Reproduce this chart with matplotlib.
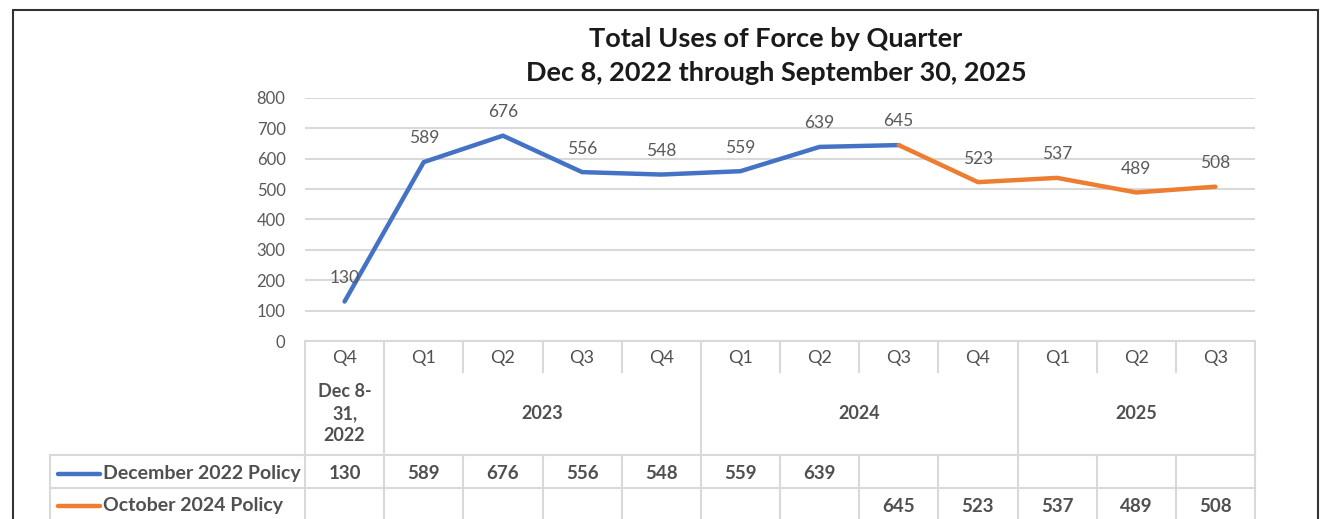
import matplotlib.pyplot as plt
from matplotlib.patches import Rectangle

plt.rcParams['font.family'] = ['Lato', 'DejaVu Sans']

quarters = ['Q4', 'Q1', 'Q2', 'Q3', 'Q4', 'Q1', 'Q2', 'Q3', 'Q4', 'Q1', 'Q2', 'Q3']
year_labels = ['Dec 8-\n31,\n2022', '2023', '2024', '2025']
year_spans = [(0, 1), (1, 5), (5, 9), (9, 12)]
dec_2022 = [130, 589, 676, 556, 548, 559, 639]
oct_2024 = [645, 523, 537, 489, 508]
oct_start = 7
series_names = ['December 2022 Policy', 'October 2024 Policy']

blue = '#4472C4'
orange = '#ED7D31'
grid_c = '#D9D9D9'
tick_c = '#595959'
text_c = '#505050'

W, H = 1325, 519
fig = plt.figure(figsize=(W / 100, H / 100), dpi=100)

# pixel layout of the plot area
px_l, px_r, px_t, px_b = 305, 1255, 98, 341
ax = fig.add_axes([px_l / W, (H - px_b) / H, (px_r - px_l) / W, (px_b - px_t) / H])
n = len(quarters)
ax.set_xlim(-0.5, n - 0.5)
ax.set_ylim(0, 800)
ax.set_yticks(range(0, 801, 100))
ax.yaxis.grid(True, color=grid_c, linewidth=1.5)
ax.set_axisbelow(True)
ax.set_xticks([])
for s in ax.spines.values():
    s.set_visible(False)
ax.tick_params(axis='y', length=0, colors=tick_c, labelsize=12, pad=14)

x_dec = list(range(len(dec_2022)))
x_oct = list(range(oct_start, oct_start + len(oct_2024)))
ax.plot(x_dec + [x_oct[0]], dec_2022 + [oct_2024[0]], color=blue, lw=3.2, solid_capstyle='round')
ax.plot(x_oct, oct_2024, color=orange, lw=3.2, solid_capstyle='round')
for xs, ys in [(x_dec, dec_2022), (x_oct, oct_2024)]:
    for x, y in zip(xs, ys):
        ax.annotate(str(y), (x, y), xytext=(0, 17), textcoords='offset points',
                    ha='center', va='center', fontsize=12.5, color=tick_c)

fig.text(776 / W, 1 - 39 / H, 'Total Uses of Force by Quarter', ha='center', va='center',
         fontsize=19.5, fontweight='bold', color='#1a1a1a')
fig.text(776 / W, 1 - 73 / H, 'Dec 8, 2022 through September 30, 2025', ha='center', va='center',
         fontsize=19.5, fontweight='bold', color='#1a1a1a')

# data table below the chart (y in pixels from the x axis)
tax = fig.add_axes([px_l / W, 0, (px_r - px_l) / W, (H - px_b) / H])
tax.set_xlim(-0.5, n - 0.5)
tax.set_ylim(H - px_b, 0)
tax.axis('off')
colw = (px_r - px_l) / n
x_far = -0.5 - (px_l - 50) / colw
r_q, r_y, r_1, r_2 = 31, 114, 147, 181
lk = dict(color=grid_c, lw=1.5, clip_on=False)

tax.plot([-0.5, n - 0.5], [0, 0], **lk)
tax.plot([x_far, n - 0.5], [r_y, r_y], **lk)
tax.plot([x_far, n - 0.5], [r_1, r_1], **lk)
tax.plot([x_far, x_far], [r_y, r_2], **lk)
for a, b in year_spans:
    tax.plot([a - 0.5, a - 0.5], [0, r_2], **lk)
tax.plot([n - 0.5, n - 0.5], [0, r_2], **lk)
group_edges = [a for a, b in year_spans]
for i in range(1, n):
    if i not in group_edges:
        tax.plot([i - 0.5, i - 0.5], [0, r_q], **lk)
        tax.plot([i - 0.5, i - 0.5], [r_y, r_2], **lk)

for i, q in enumerate(quarters):
    tax.text(i, r_q / 2 + 1, q, ha='center', va='center', fontsize=13, color=text_c)
for lab, (a, b) in zip(year_labels, year_spans):
    tax.text((a + b - 1) / 2, (r_q + r_y) / 2, lab, ha='center', va='center', fontsize=13,
             color=text_c, fontweight='bold', linespacing=1.35)
for i, v in enumerate(dec_2022):
    tax.text(i, (r_y + r_1) / 2 + 2, str(v), ha='center', va='center', fontsize=13.5,
             color=text_c, fontweight='bold')
for i, v in zip(x_oct, oct_2024):
    tax.text(i, (r_1 + r_2) / 2 + 1, str(v), ha='center', va='center', fontsize=13.5,
             color=text_c, fontweight='bold')

sw0 = -0.5 - (px_l - 58) / colw
sw1 = -0.5 - (px_l - 100) / colw
tx = -0.5 - (px_l - 103) / colw
for name, c, (ya, yb), dy in zip(series_names, [blue, orange], [(r_y, r_1), (r_1, r_2)], [2, 1]):
    ym = (ya + yb) / 2 + dy
    tax.plot([sw0, sw1], [ym, ym], color=c, lw=3.2, clip_on=False, solid_capstyle='round')
    tax.text(tx, ym, name, ha='left', va='center', fontsize=14, color=text_c, fontweight='bold')

fig.patches.append(Rectangle((13 / W, -0.1), 1305 / W, (H - 10) / H + 0.1, transform=fig.transFigure,
                             fill=False, edgecolor='#333333', lw=1.5))

fig.savefig('out.png', dpi=100)
